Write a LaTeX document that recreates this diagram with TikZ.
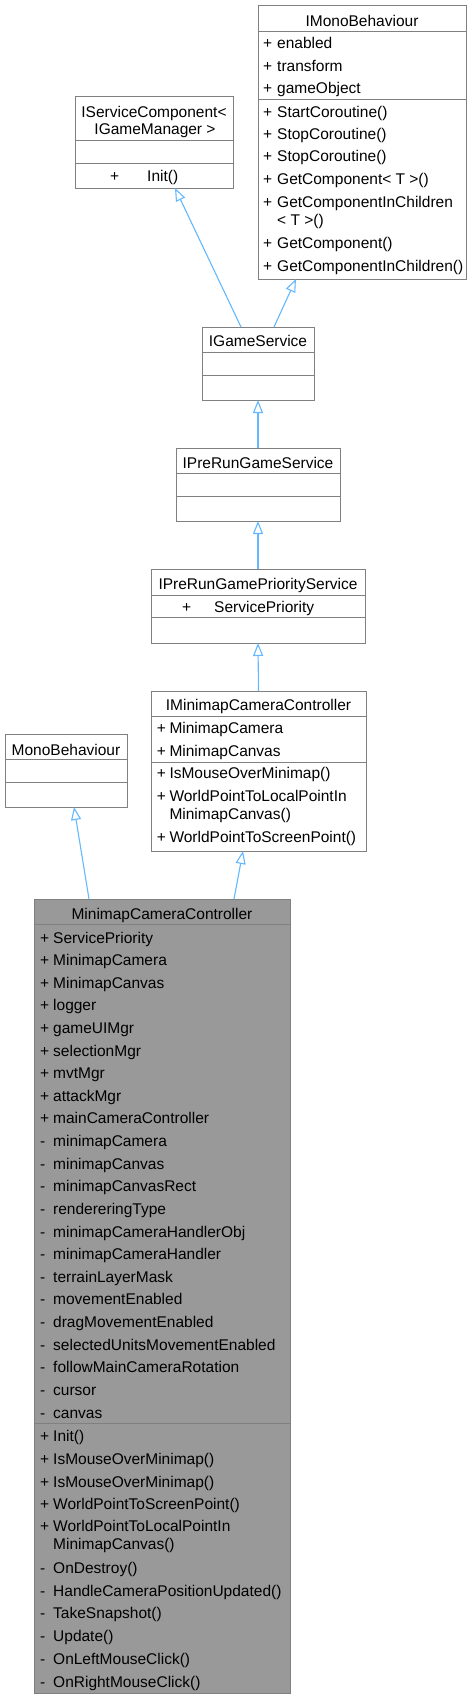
\documentclass[tikz,border=0pt]{standalone}
\usepackage{fontspec}
\setmainfont{Liberation Sans}
\usetikzlibrary{arrows.meta}
\definecolor{boxline}{HTML}{808080}
\definecolor{edgeblue}{HTML}{63B8FF}
\definecolor{rootfill}{HTML}{999999}

\begin{document}
\begin{tikzpicture}[
  x=1pt, y=-1pt,
  font=\fontsize{15.5}{18}\selectfont,
  cls/.style={draw=boxline, line width=0.9pt, fill=white, anchor=north west, inner sep=0pt, outer sep=0pt},
  root/.style={cls, fill=rootfill},
  sep/.style={draw=boxline, line width=0.9pt},
  title/.style={anchor=base, inner sep=0pt},
  mem/.style={anchor=base west, inner sep=0pt},
  inherit/.style={draw=edgeblue, line width=1.1pt, -{Triangle[length=13pt, width=10pt, fill=white]}}
]
\useasboundingbox (0,0) rectangle (471,1699);

% IMonoBehaviour
\node[cls, minimum width=208pt, minimum height=274pt] (imono) at (258,5) {};
\node[title] (imono-t) at (362,27) {IMonoBehaviour};
\draw[sep] (258,31) -- (466,31);
\draw[sep] (258,99) -- (466,99);
\foreach \y/\n [count=\i] in {49/enabled, 71.5/transform, 94/gameObject,
    117.3/StartCoroutine(), 139.5/StopCoroutine(), 162/StopCoroutine(),
    185/GetComponent< T >(), 207.3/GetComponentInChildren,
    248.7/GetComponent(), 271.3/GetComponentInChildren()} {
  \node[mem] (imono-v\i) at (263,\y) {+};
  \node[mem] (imono-n\i) at (277,\y) {\n};
}
\node[mem] (imono-c) at (277,225.3) {< T >()};

% IServiceComponent< IGameManager >
\node[cls, minimum width=158pt, minimum height=92pt] (isvc) at (75,96) {};
\node[title] (isvc-t1) at (154,117.3) {IServiceComponent<};
\node[title] (isvc-t2) at (155,134.7) {IGameManager >};
\draw[sep] (75,140) -- (233,140);
\draw[sep] (75,163) -- (233,163);
\node[mem] (isvc-v) at (110,181.3) {+};
\node[mem] (isvc-n) at (147,181.3) {Init()};

% IGameService
\node[cls, minimum width=112pt, minimum height=73pt] (igs) at (202,327) {};
\node[title] (igs-t) at (258,346.7) {IGameService};
\draw[sep] (202,352) -- (314,352);
\draw[sep] (202,375) -- (314,375);

% IPreRunGameService
\node[cls, minimum width=164pt, minimum height=73pt] (iprgs) at (176,448) {};
\node[title] (iprgs-t) at (258,468.3) {IPreRunGameService};
\draw[sep] (176,473) -- (340,473);
\draw[sep] (176,496) -- (340,496);

% IPreRunGamePriorityService
\node[cls, minimum width=214pt, minimum height=74pt] (iprgps) at (151,569) {};
\node[title] (iprgps-t) at (258,589.3) {IPreRunGamePriorityService};
\draw[sep] (151,595) -- (365,595);
\node[mem] (iprgps-v) at (182,612.3) {+};
\node[mem] (iprgps-n) at (214,612.3) {ServicePriority};
\draw[sep] (151,617) -- (365,617);

% IMinimapCameraController
\node[cls, minimum width=215pt, minimum height=160pt] (imcc) at (151,691) {};
\node[title] (imcc-t) at (258.5,710.7) {IMinimapCameraController};
\draw[sep] (151,716) -- (366,716);
\draw[sep] (151,762) -- (366,762);
\foreach \y/\n [count=\i] in {733.3/MinimapCamera, 756.7/MinimapCanvas,
    778.7/IsMouseOverMinimap(), 801.7/WorldPointToLocalPointIn,
    842.7/WorldPointToScreenPoint()} {
  \node[mem] (imcc-v\i) at (156.7,\y) {+};
  \node[mem] (imcc-n\i) at (169.3,\y) {\n};
}
\node[mem] (imcc-c) at (169.3,819.3) {MinimapCanvas()};

% MonoBehaviour
\node[cls, minimum width=122pt, minimum height=73pt] (mb) at (5,734) {};
\node[title] (mb-t) at (66,755) {MonoBehaviour};
\draw[sep] (5,759) -- (127,759);
\draw[sep] (5,782) -- (127,782);

% MinimapCameraController
\node[root, minimum width=256pt, minimum height=794pt] (mcc) at (34,899) {};
\node[title] (mcc-t) at (162,919) {MinimapCameraController};
\draw[sep] (34,924) -- (290,924);
\foreach \v/\n [count=\i from 0] in {+/ServicePriority, +/MinimapCamera,
    +/MinimapCanvas, +/logger, +/gameUIMgr, +/selectionMgr, +/mvtMgr,
    +/attackMgr, +/mainCameraController, -/minimapCamera, -/minimapCanvas,
    -/minimapCanvasRect, -/rendereringType, -/minimapCameraHandlerObj,
    -/minimapCameraHandler, -/terrainLayerMask, -/movementEnabled,
    -/dragMovementEnabled, -/selectedUnitsMovementEnabled,
    -/followMainCameraRotation, -/cursor, -/canvas} {
  \node[mem] (mcc-av\i) at (40,{943+22.62*\i}) {\v};
  \node[mem] (mcc-an\i) at (53,{943+22.62*\i}) {\n};
}
\draw[sep] (34,1423) -- (290,1423);
\foreach \y/\v/\n [count=\i] in {1441.7/+/Init(), 1464/+/IsMouseOverMinimap(),
    1487/+/IsMouseOverMinimap(), 1509/+/WorldPointToScreenPoint(),
    1531.7/+/WorldPointToLocalPointIn, 1573/-/OnDestroy(),
    1596/-/HandleCameraPositionUpdated(), 1618/-/TakeSnapshot(),
    1641/-/Update(), 1664/-/OnLeftMouseClick(), 1687/-/OnRightMouseClick()} {
  \node[mem] (mcc-mv\i) at (40,\y) {\v};
  \node[mem] (mcc-mn\i) at (53,\y) {\n};
}
\node[mem] (mcc-c) at (53,1549) {MinimapCanvas()};

% inheritance
\draw[inherit] ([xshift=39pt]igs.north west) -- ([xshift=100pt]isvc.south west);
\draw[inherit] ([xshift=72pt]igs.north west) -- ([xshift=38pt]imono.south west);
\draw[inherit] (iprgs.north) -- (igs.south);
\draw[inherit] (iprgps.north) -- (iprgs.south);
\draw[inherit] (imcc.north) -- (iprgps.south);
\draw[inherit] ([xshift=55pt]mcc.north west) -- ([xshift=69pt]mb.south west);
\draw[inherit] ([xshift=200pt]mcc.north west) -- ([xshift=92pt]imcc.south west);
\end{tikzpicture}
\end{document}
